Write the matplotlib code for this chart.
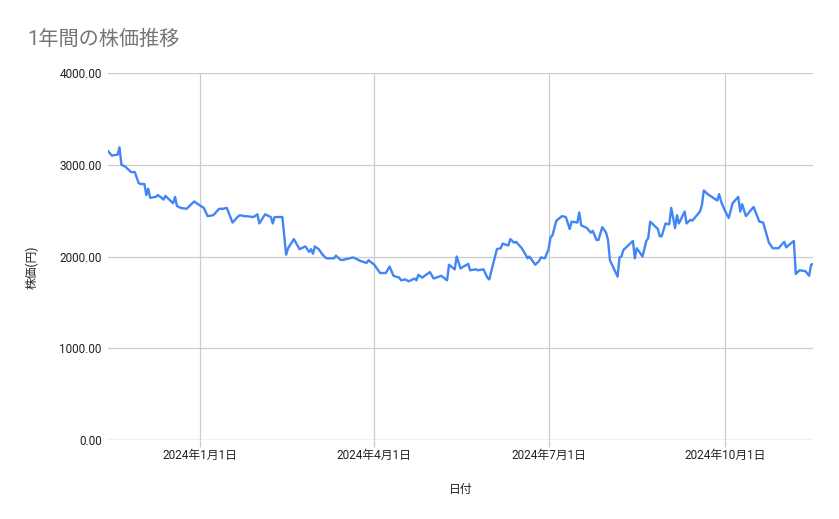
import matplotlib
matplotlib.use("Agg")
import matplotlib.pyplot as plt
import matplotlib.dates as mdates
from matplotlib.ticker import FuncFormatter, FixedLocator
import datetime as dt

plt.rcParams['font.family'] = ['Roboto', 'Noto Sans CJK JP', 'DejaVu Sans']

title = "1年間の株価推移"
x_label = "日付"
y_label = "株価(円)"

dates = [
    "2023-11-14", "2023-11-16", "2023-11-19", "2023-11-20", "2023-11-21", "2023-11-23",
    "2023-11-26", "2023-11-28", "2023-11-30", "2023-12-01", "2023-12-03", "2023-12-04",
    "2023-12-05", "2023-12-06", "2023-12-09", "2023-12-10", "2023-12-12", "2023-12-13",
    "2023-12-14", "2023-12-16", "2023-12-18", "2023-12-19", "2023-12-20", "2023-12-22",
    "2023-12-25", "2023-12-29", "2023-12-31", "2024-01-03", "2024-01-05", "2024-01-08",
    "2024-01-11", "2024-01-13", "2024-01-15", "2024-01-18", "2024-01-21", "2024-01-22",
    "2024-01-24", "2024-01-25", "2024-01-29", "2024-01-31", "2024-02-01", "2024-02-04",
    "2024-02-07", "2024-02-08", "2024-02-09", "2024-02-13", "2024-02-15", "2024-02-16",
    "2024-02-19", "2024-02-22", "2024-02-25", "2024-02-27", "2024-02-28", "2024-02-29",
    "2024-03-01", "2024-03-03", "2024-03-05", "2024-03-07", "2024-03-11", "2024-03-12",
    "2024-03-14", "2024-03-15", "2024-03-21", "2024-03-25", "2024-03-28", "2024-03-29",
    "2024-04-01", "2024-04-04", "2024-04-07", "2024-04-09", "2024-04-11", "2024-04-14",
    "2024-04-15", "2024-04-17", "2024-04-19", "2024-04-22", "2024-04-23", "2024-04-24",
    "2024-04-26", "2024-04-30", "2024-05-02", "2024-05-06", "2024-05-09", "2024-05-10",
    "2024-05-13", "2024-05-14", "2024-05-16", "2024-05-20", "2024-05-21", "2024-05-24",
    "2024-05-25", "2024-05-28", "2024-05-30", "2024-05-31", "2024-06-04", "2024-06-06",
    "2024-06-07", "2024-06-10", "2024-06-11", "2024-06-13", "2024-06-14", "2024-06-17",
    "2024-06-19", "2024-06-20", "2024-06-21", "2024-06-24", "2024-06-26", "2024-06-27",
    "2024-06-29", "2024-07-01", "2024-07-02", "2024-07-03", "2024-07-05", "2024-07-08",
    "2024-07-10", "2024-07-12", "2024-07-13", "2024-07-16", "2024-07-17", "2024-07-18",
    "2024-07-21", "2024-07-23", "2024-07-24", "2024-07-26", "2024-07-27", "2024-07-29",
    "2024-07-31", "2024-08-01", "2024-08-02", "2024-08-04", "2024-08-06", "2024-08-07",
    "2024-08-08", "2024-08-09", "2024-08-12", "2024-08-14", "2024-08-15", "2024-08-16",
    "2024-08-19", "2024-08-21", "2024-08-22", "2024-08-23", "2024-08-26", "2024-08-27",
    "2024-08-28", "2024-08-29", "2024-08-31", "2024-09-02", "2024-09-03", "2024-09-05",
    "2024-09-06", "2024-09-07", "2024-09-10", "2024-09-11", "2024-09-13", "2024-09-14",
    "2024-09-18", "2024-09-19", "2024-09-20", "2024-09-22", "2024-09-27", "2024-09-28",
    "2024-09-29", "2024-10-01", "2024-10-03", "2024-10-05", "2024-10-08", "2024-10-09",
    "2024-10-10", "2024-10-12", "2024-10-16", "2024-10-19", "2024-10-21", "2024-10-24",
    "2024-10-26", "2024-10-29", "2024-11-01", "2024-11-02", "2024-11-06", "2024-11-07",
    "2024-11-09", "2024-11-12", "2024-11-14", "2024-11-15", "2024-11-16",
]

prices = [
    3150, 3100, 3110, 3190, 3000, 2980,
    2920, 2920, 2800, 2790, 2790, 2670,
    2740, 2640, 2650, 2670, 2640, 2620,
    2660, 2620, 2580, 2650, 2550, 2530,
    2520, 2600, 2570, 2530, 2440, 2450,
    2520, 2520, 2530, 2370, 2440, 2450,
    2440, 2440, 2430, 2460, 2360, 2460,
    2430, 2360, 2430, 2430, 2020, 2090,
    2190, 2080, 2110, 2050, 2080, 2030,
    2110, 2080, 2020, 1980, 1980, 2010,
    1970, 1960, 1990, 1950, 1930, 1960,
    1910, 1820, 1820, 1890, 1790, 1770,
    1740, 1750, 1730, 1760, 1740, 1800,
    1770, 1830, 1760, 1790, 1740, 1910,
    1860, 2000, 1870, 1920, 1850, 1860,
    1850, 1860, 1770, 1750, 2080, 2090,
    2140, 2120, 2190, 2150, 2160, 2090,
    2020, 1980, 2000, 1910, 1950, 1990,
    1980, 2080, 2210, 2230, 2390, 2440,
    2430, 2300, 2380, 2370, 2480, 2340,
    2310, 2260, 2280, 2180, 2180, 2320,
    2260, 2180, 1960, 1870, 1780, 1990,
    2000, 2070, 2130, 2170, 1980, 2090,
    2000, 2170, 2200, 2380, 2320, 2300,
    2220, 2220, 2360, 2350, 2530, 2310,
    2450, 2360, 2490, 2360, 2400, 2390,
    2490, 2560, 2720, 2680, 2610, 2680,
    2600, 2500, 2420, 2580, 2650, 2490,
    2570, 2440, 2540, 2380, 2370, 2150,
    2090, 2090, 2160, 2100, 2170, 1810,
    1850, 1840, 1790, 1910, 1920,
]

y_ticks = [0, 1000, 2000, 3000, 4000]
x_ticks = ["2024-01-01", "2024-04-01", "2024-07-01", "2024-10-01"]

dts = [dt.datetime.strptime(d, "%Y-%m-%d") for d in dates]
xt = [mdates.date2num(dt.datetime.strptime(d, "%Y-%m-%d")) for d in x_ticks]

fig = plt.figure(figsize=(8.39, 5.19), dpi=100)
ax = fig.add_axes([108/839, 1-440/519, (813-108)/839, (440-73)/519])

grid_c = "#cccccc"
ax.plot(dts, prices, color="#4285F4", linewidth=1.7, solid_joinstyle="round", zorder=3)

ax.set_ylim(0, 4000)
ax.set_xlim(dts[0], dts[-1])
ax.yaxis.set_major_locator(FixedLocator(y_ticks))
ax.yaxis.set_major_formatter(FuncFormatter(lambda v, p: f"{v:.2f}"))
ax.xaxis.set_major_locator(FixedLocator(xt))
ax.xaxis.set_major_formatter(FuncFormatter(
    lambda v, p: (lambda d: f"{d.year}年{d.month}月{d.day}日")(mdates.num2date(v))))

ax.grid(True, color=grid_c, linewidth=0.9, zorder=0)
for s in ax.spines.values():
    s.set_visible(False)
ax.axhline(0, color="#bbbbbb", linewidth=0.9, zorder=1)

ax.tick_params(axis="y", length=0, pad=4.5, labelsize=8.5, labelcolor="#222222")
ax.tick_params(axis="x", length=5, width=0.9, color=grid_c, pad=1.5,
               labelsize=8.5, labelcolor="#222222")

ax.set_xlabel(x_label, fontsize=8.5, color="#222222", labelpad=15)
ax.set_ylabel(y_label, fontsize=8.5, color="#222222")
ax.yaxis.set_label_coords(-0.098, 0.47)

fig.text(27/839, 1-39/519, title, fontsize=14.5, color="#757575", va="center", ha="left")

fig.savefig("out.png", dpi=100, facecolor="white")
